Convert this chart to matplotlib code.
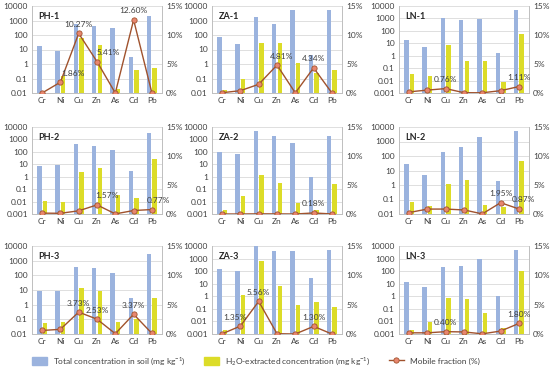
import matplotlib.pyplot as plt
import numpy as np
from matplotlib.ticker import FuncFormatter, MultipleLocator, FixedLocator
from matplotlib.patches import Patch
from matplotlib.lines import Line2D

plt.rcParams['font.family'] = ['Lato', 'DejaVu Sans']
plt.rcParams['mathtext.default'] = 'regular'

metals = ['Cr', 'Ni', 'Cu', 'Zn', 'As', 'Cd', 'Pb']
sites = ['PH-1', 'ZA-1', 'LN-1', 'PH-2', 'ZA-2', 'LN-2', 'PH-3', 'ZA-3', 'LN-3']

# total concentration in soil (mg/kg)
total_ph1 = [18, 8, 600, 400, 300, 3, 2000]
total_za1 = [70, 25, 1800, 600, 5000, 4, 5000]
total_ln1 = [20, 5, 1000, 700, 900, 1.8, 5000]
total_ph2 = [7, 8, 400, 300, 150, 3, 3500]
total_za2 = [90, 70, 4500, 1800, 550, 1, 1900]
total_ln2 = [30, 5, 180, 420, 2000, 1.8, 5000]
total_ph3 = [9, 9, 400, 320, 150, 3, 3000]
total_za3 = [150, 100, 10000, 4000, 4000, 30, 5000]
total_ln3 = [15, 6, 200, 250, 1000, 1, 5000]

# H2O-extracted concentration (mg/kg)
h2o_ph1 = [0, 0.15, 60, 20, 0.02, 0.4, 0.55]
h2o_za1 = [0.015, 0.1, 28, 28, 1.1, 0.25, 0.4]
h2o_ln1 = [0.035, 0.025, 7, 0.4, 0.35, 0.007, 60]
h2o_ph2 = [0.012, 0.009, 2.2, 5, 0.035, 0.018, 28]
h2o_za2 = [0.002, 0.028, 1.3, 0.3, 0.008, 0.002, 0.25]
h2o_ln2 = [0.065, 0.035, 1.2, 2.3, 0.045, 0.03, 45]
h2o_ph3 = [0.055, 0.07, 13, 8, 0.07, 0.11, 3]
h2o_za3 = [0.002, 1.3, 600, 7, 0.2, 0.35, 0.15]
h2o_ln3 = [0.002, 0.009, 0.75, 0.65, 0.05, 0.003, 100]

# mobile fraction (%)
mob_ph1 = [0, 1.86, 10.27, 5.41, 0, 12.60, 0]
mob_za1 = [0.05, 0.4, 1.5, 4.81, 0.02, 4.34, 0]
mob_ln1 = [0.2, 0.5, 0.76, 0.05, 0.04, 0.4, 1.11]
mob_ph2 = [0.15, 0.12, 0.55, 1.57, 0.02, 0.6, 0.77]
mob_za2 = [0, 0, 0.03, 0.02, 0, 0.18, 0.01]
mob_ln2 = [0.25, 0.85, 0.85, 0.7, 0.02, 1.95, 0.87]
mob_ph3 = [0.6, 0.8, 3.73, 2.53, 0.05, 3.37, 0.1]
mob_za3 = [0.03, 1.35, 5.56, 0.05, 0.005, 1.30, 0]
mob_ln3 = [0.2, 0.2, 0.40, 0.35, 0.03, 0.5, 1.80]

totals = [total_ph1, total_za1, total_ln1, total_ph2, total_za2, total_ln2,
          total_ph3, total_za3, total_ln3]
h2os = [h2o_ph1, h2o_za1, h2o_ln1, h2o_ph2, h2o_za2, h2o_ln2,
        h2o_ph3, h2o_za3, h2o_ln3]
mobs = [mob_ph1, mob_za1, mob_ln1, mob_ph2, mob_za2, mob_ln2,
        mob_ph3, mob_za3, mob_ln3]

# lower end of the log axis for each panel
y_min = [0.01, 0.01, 0.001, 0.001, 0.001, 0.01, 0.01, 0.001, 0.001]

# which points get a percentage label
labelled = [[1, 2, 3, 5], [3, 5], [2, 6], [3, 6], [5], [5, 6],
            [2, 3, 5], [1, 2, 5], [2, 6]]

# small horizontal shifts (points) for some labels
label_dx = {(0, 1): 9, (0, 3): 8, (1, 3): 3, (3, 3): 7, (3, 6): 5,
            (5, 6): 3, (7, 1): -4}

blue = '#9BB3DE'
yellow = '#DCDC28'
line_col = '#A0522D'
marker_face = '#E8866E'
grid_col = '#D9D9D9'
text_col = '#404040'

fig = plt.figure(figsize=(5.5, 3.75), dpi=100)

lefts = [32, 212, 399]
bottoms = [93, 214, 334]
tops = [6, 127, 246]
W, H = 550.0, 375.0

x = np.arange(len(metals))
bw = 0.24

for i in range(9):
    r, c = divmod(i, 3)
    l = lefts[c] / W
    w = 130 / W
    b = 1 - bottoms[r] / H
    h = (bottoms[r] - tops[r]) / H
    ax = fig.add_axes([l, b, w, h])
    ax.set_yscale('log')
    ax.bar(x - 0.15, totals[i], bw, color=blue, zorder=2)
    ax.bar(x + 0.15, h2os[i], bw, color=yellow, zorder=2)
    ax.set_ylim(y_min[i], 10000)
    ax.set_xlim(-0.55, 6.55)
    ticks = [10.0 ** k for k in range(int(round(np.log10(y_min[i]))), 5)]
    ax.yaxis.set_major_locator(FixedLocator(ticks))
    ax.yaxis.set_minor_locator(FixedLocator([]))
    ax.yaxis.set_major_formatter(FuncFormatter(lambda v, p: '%g' % v))
    ax.grid(axis='y', color=grid_col, lw=0.6, zorder=0)
    ax.set_xticks(x)
    ax.set_xticklabels(metals)
    ax.tick_params(length=0, labelsize=6, colors=text_col, pad=3)
    ax.spines['top'].set_visible(False)
    for s in ['left', 'right', 'bottom']:
        ax.spines[s].set_color('#BFBFBF')
        ax.spines[s].set_linewidth(0.6)
    ax.text(0.05, 0.93, sites[i], transform=ax.transAxes, fontsize=6.5,
            fontweight='bold', color='#262626', va='top', ha='left', zorder=5)

    ax2 = ax.twinx()
    ax2.plot(x, mobs[i], '-o', color=line_col, lw=1.0, ms=3.8,
             mfc=marker_face, mec=line_col, mew=0.6, zorder=4)
    ax2.set_ylim(0, 15)
    ax2.yaxis.set_major_locator(MultipleLocator(5))
    ax2.yaxis.set_major_formatter(FuncFormatter(lambda v, p: '%d%%' % v))
    ax2.tick_params(length=0, labelsize=6, colors=text_col, pad=3)
    ax2.spines['top'].set_visible(False)
    for s in ['left', 'right', 'bottom']:
        ax2.spines[s].set_color('#BFBFBF')
        ax2.spines[s].set_linewidth(0.6)
    for k in labelled[i]:
        ax2.annotate('%.2f%%' % mobs[i][k], (x[k], mobs[i][k]),
                     xytext=(label_dx.get((i, k), 0), 4),
                     textcoords='offset points', ha='center', va='bottom',
                     fontsize=6, color=text_col, zorder=6)

handles = [Patch(color=blue), Patch(color=yellow),
           Line2D([], [], color=line_col, lw=1.0, marker='o', ms=3.8,
                  mfc=marker_face, mec=line_col, mew=0.6)]
labels = ['Total concentration in soil (mg kg$^{-1}$)',
          'H$_2$O-extracted concentration (mg kg$^{-1}$)',
          'Mobile fraction (%)']
fig.legend(handles, labels, loc='center', bbox_to_anchor=(0.465, 0.037),
           ncol=3, frameon=False, fontsize=6, handlelength=1.8,
           handleheight=1.0, columnspacing=2.2, handletextpad=0.7,
           labelcolor=text_col)

fig.savefig('out.png', dpi=100)
